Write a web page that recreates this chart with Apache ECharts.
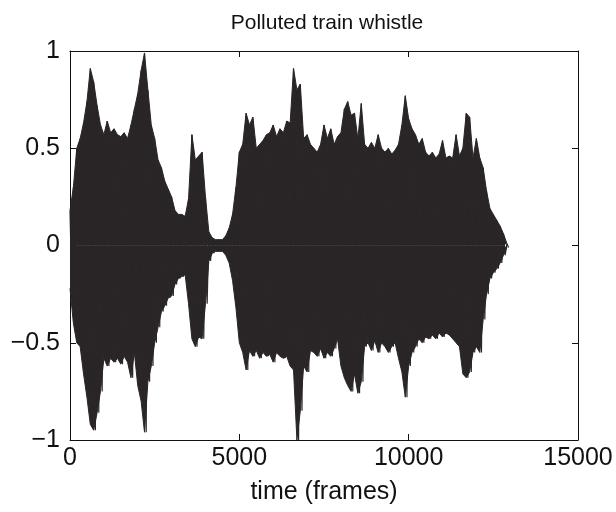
<!DOCTYPE html>
<html>
<head>
<meta charset="utf-8">
<script src="https://cdn.jsdelivr.net/npm/echarts@6/dist/echarts.min.js"></script>
<style>
  html, body { margin: 0; padding: 0; background: #fff; }
  #chart-container { width: 616px; height: 512px; }
</style>
</head>
<body>
<div id="chart-container"></div>
<script>
// envelope of the waveform, one reading every STEP frames
const STEP = 100;
const upper = [
  0.18, 0.30, 0.50, 0.55, 0.63, 0.74, 0.91, 0.84, 0.72, 0.62,
  0.57, 0.64, 0.58, 0.60, 0.57, 0.56, 0.58, 0.55, 0.62, 0.70,
  0.78, 0.90, 0.99, 0.80, 0.62, 0.55, 0.44, 0.40, 0.33, 0.29,
  0.25, 0.18, 0.16, 0.16, 0.15, 0.24, 0.57, 0.44, 0.46, 0.48,
  0.25, 0.07, 0.04, 0.03, 0.03, 0.03, 0.05, 0.09, 0.16, 0.30,
  0.48, 0.52, 0.68, 0.62, 0.66, 0.50, 0.52, 0.54, 0.57, 0.58,
  0.62, 0.56, 0.60, 0.58, 0.64, 0.63, 0.91, 0.80, 0.83, 0.55,
  0.57, 0.52, 0.50, 0.48, 0.52, 0.62, 0.55, 0.60, 0.52, 0.56,
  0.58, 0.70, 0.74, 0.67, 0.68, 0.55, 0.73, 0.52, 0.50, 0.53,
  0.50, 0.57, 0.50, 0.48, 0.50, 0.47, 0.49, 0.52, 0.62, 0.77,
  0.65, 0.60, 0.57, 0.52, 0.55, 0.48, 0.46, 0.48, 0.45, 0.47,
  0.54, 0.45, 0.46, 0.45, 0.57, 0.46, 0.50, 0.68, 0.66, 0.45,
  0.55, 0.45, 0.40, 0.28, 0.19, 0.16, 0.13, 0.10, 0.06, 0.01
];
const lower = [
  -0.22, -0.40, -0.50, -0.52, -0.66, -0.78, -0.92, -0.95, -0.86, -0.75,
  -0.58, -0.62, -0.58, -0.60, -0.58, -0.61, -0.57, -0.60, -0.68, -0.55,
  -0.72, -0.80, -0.96, -0.70, -0.62, -0.50, -0.42, -0.34, -0.31, -0.27,
  -0.26, -0.20, -0.17, -0.16, -0.15, -0.30, -0.48, -0.52, -0.47, -0.48,
  -0.30, -0.08, -0.04, -0.03, -0.03, -0.03, -0.05, -0.09, -0.18, -0.32,
  -0.50, -0.55, -0.64, -0.54, -0.57, -0.54, -0.58, -0.55, -0.57, -0.56,
  -0.60, -0.55, -0.57, -0.58, -0.57, -0.62, -0.64, -1.00, -0.85, -0.62,
  -0.65, -0.54, -0.55, -0.57, -0.53, -0.58, -0.55, -0.57, -0.53, -0.48,
  -0.62, -0.68, -0.72, -0.75, -0.66, -0.76, -0.70, -0.52, -0.50, -0.54,
  -0.49, -0.55, -0.50, -0.52, -0.55, -0.52, -0.50, -0.58, -0.65, -0.78,
  -0.62, -0.55, -0.52, -0.48, -0.50, -0.47, -0.48, -0.46, -0.48, -0.45,
  -0.47, -0.45, -0.46, -0.48, -0.50, -0.52, -0.66, -0.68, -0.65, -0.55,
  -0.52, -0.55, -0.38, -0.25, -0.17, -0.14, -0.12, -0.09, -0.05, -0.01
];
const xTicks = [0, 5000, 10000, 15000];
const yTicks = [-1, -0.5, 0, 0.5, 1];

const upperPts = upper.map(function (v, i) { return [i * STEP, v]; });
const lowerPts = lower.map(function (v, i) { return [i * STEP, v]; });
// the trace itself swings between the two readings, closing the seam at zero
const wave = [];
upper.forEach(function (u, i) {
  wave.push([i * STEP, u]);
  wave.push([i * STEP + STEP / 2, lower[i]]);
});

const font = "Liberation Sans";
const ink = "#111";
const fill = "#2a2526";
const minus = function (v) { return String(v).replace("-", "\u2212"); };

const chart = echarts.init(document.getElementById("chart-container"));

function boxAxis(extra) {
  return Object.assign({
    type: "value",
    axisLine: { show: true, onZero: false, lineStyle: { color: ink, width: 1 } },
    axisTick: { show: true, inside: true, length: 6, lineStyle: { color: ink } },
    splitLine: { show: false },
  }, extra);
}

function envelope(name, pts) {
  return {
    name: name,
    type: "line",
    data: pts,
    showSymbol: false,
    sampling: null,
    lineStyle: { color: fill, width: 1 },
    areaStyle: { color: fill, opacity: 1, origin: 0 },
  };
}

const option = {
  animation: false,
  backgroundColor: "#fff",
  title: {
    text: "Polluted train whistle",
    left: 322,
    top: 8,
    textAlign: "center",
    textStyle: { fontFamily: font, fontSize: 21, fontWeight: "normal", color: ink },
  },
  grid: { left: 70, right: 38, top: 51, bottom: 72 },
  xAxis: [
    boxAxis({
      min: xTicks[0], max: xTicks[xTicks.length - 1], interval: 5000,
      position: "bottom",
      name: "time (frames)",
      nameLocation: "middle",
      nameGap: 40,
      nameTextStyle: { fontFamily: font, fontSize: 25, color: ink },
      axisLabel: { fontFamily: font, fontSize: 25, color: ink, margin: 6, formatter: function (v) { return String(v); } },
    }),
    boxAxis({
      min: xTicks[0], max: xTicks[xTicks.length - 1], interval: 5000,
      position: "top",
      axisLabel: { show: false },
    }),
  ],
  yAxis: [
    boxAxis({
      min: yTicks[0], max: yTicks[yTicks.length - 1], interval: 0.5,
      position: "left",
      axisLabel: { fontFamily: font, fontSize: 25, color: ink, margin: 10, formatter: minus },
    }),
    boxAxis({
      min: yTicks[0], max: yTicks[yTicks.length - 1], interval: 0.5,
      position: "right",
      axisLabel: { show: false },
    }),
  ],
  series: [
    envelope("upper", upperPts),
    envelope("lower", lowerPts),
    {
      name: "whistle",
      type: "line",
      data: wave,
      showSymbol: false,
      sampling: null,
      lineStyle: { color: fill, width: 1.2 },
    },
  ],
};

chart.setOption(option);
</script>
</body>
</html>
